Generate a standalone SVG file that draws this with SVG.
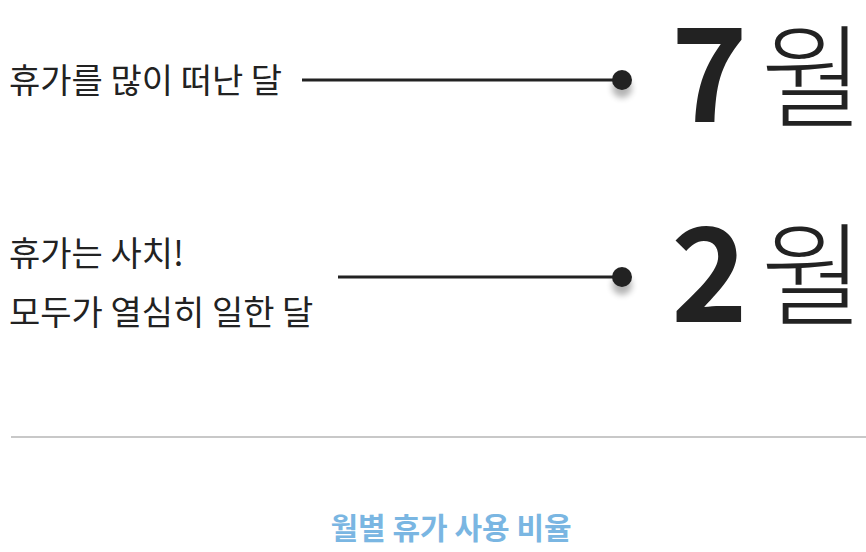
<svg xmlns="http://www.w3.org/2000/svg" width="866" height="552" viewBox="0 0 866 552">
<defs>
<style>
.lbl{font-family:"Noto Sans CJK KR","Noto Sans",sans-serif;font-size:34px;fill:#222;letter-spacing:0px}
.num{font-family:"Noto Sans CJK KR","Noto Sans",sans-serif;font-weight:700;font-size:130px;fill:#222}
.mon{font-family:"Noto Sans CJK KR","Noto Sans",sans-serif;font-weight:300;font-size:112px;fill:#222}
.title{font-family:"Noto Sans CJK KR","Noto Sans",sans-serif;font-weight:700;font-size:30px;fill:#7ab6e2;letter-spacing:0px}
.conn{stroke:#222;stroke-width:3;fill:none}
.dot{fill:#222}
</style>
<filter id="sh" x="-100%" y="-100%" width="300%" height="300%">
<feGaussianBlur in="SourceAlpha" stdDeviation="3"/>
<feOffset dx="0" dy="8"/>
<feComponentTransfer><feFuncA type="linear" slope="0.3"/></feComponentTransfer>
<feMerge><feMergeNode/><feMergeNode in="SourceGraphic"/></feMerge>
</filter>
</defs>
<rect width="866" height="552" fill="#fff"/>
<g id="connectors">
<line class="conn" x1="302" y1="80" x2="620" y2="80"/>
<line class="conn" x1="338" y1="277" x2="620" y2="277"/>
</g>
<g id="node-july">
<text class="lbl" x="9" y="93">휴가를 많이 떠난 달</text>
<circle class="dot" cx="622" cy="80" r="10" filter="url(#sh)"/>
<text class="num" x="671" y="122">7</text>
<text class="mon" x="761" y="119">월</text>
</g>
<g id="node-feb">
<text class="lbl" x="9" y="266">휴가는 사치!</text>
<text class="lbl" x="9" y="325">모두가 열심히 일한 달</text>
<circle class="dot" cx="622" cy="277" r="10" filter="url(#sh)"/>
<text class="num" x="671" y="322">2</text>
<text class="mon" x="761" y="317">월</text>
</g>
<line x1="11" y1="437" x2="866" y2="437" stroke="#c8c8c8" stroke-width="2"/>
<g id="title">
<text class="title" x="451" y="539" text-anchor="middle">월별 휴가 사용 비율</text>
</g>
</svg>
